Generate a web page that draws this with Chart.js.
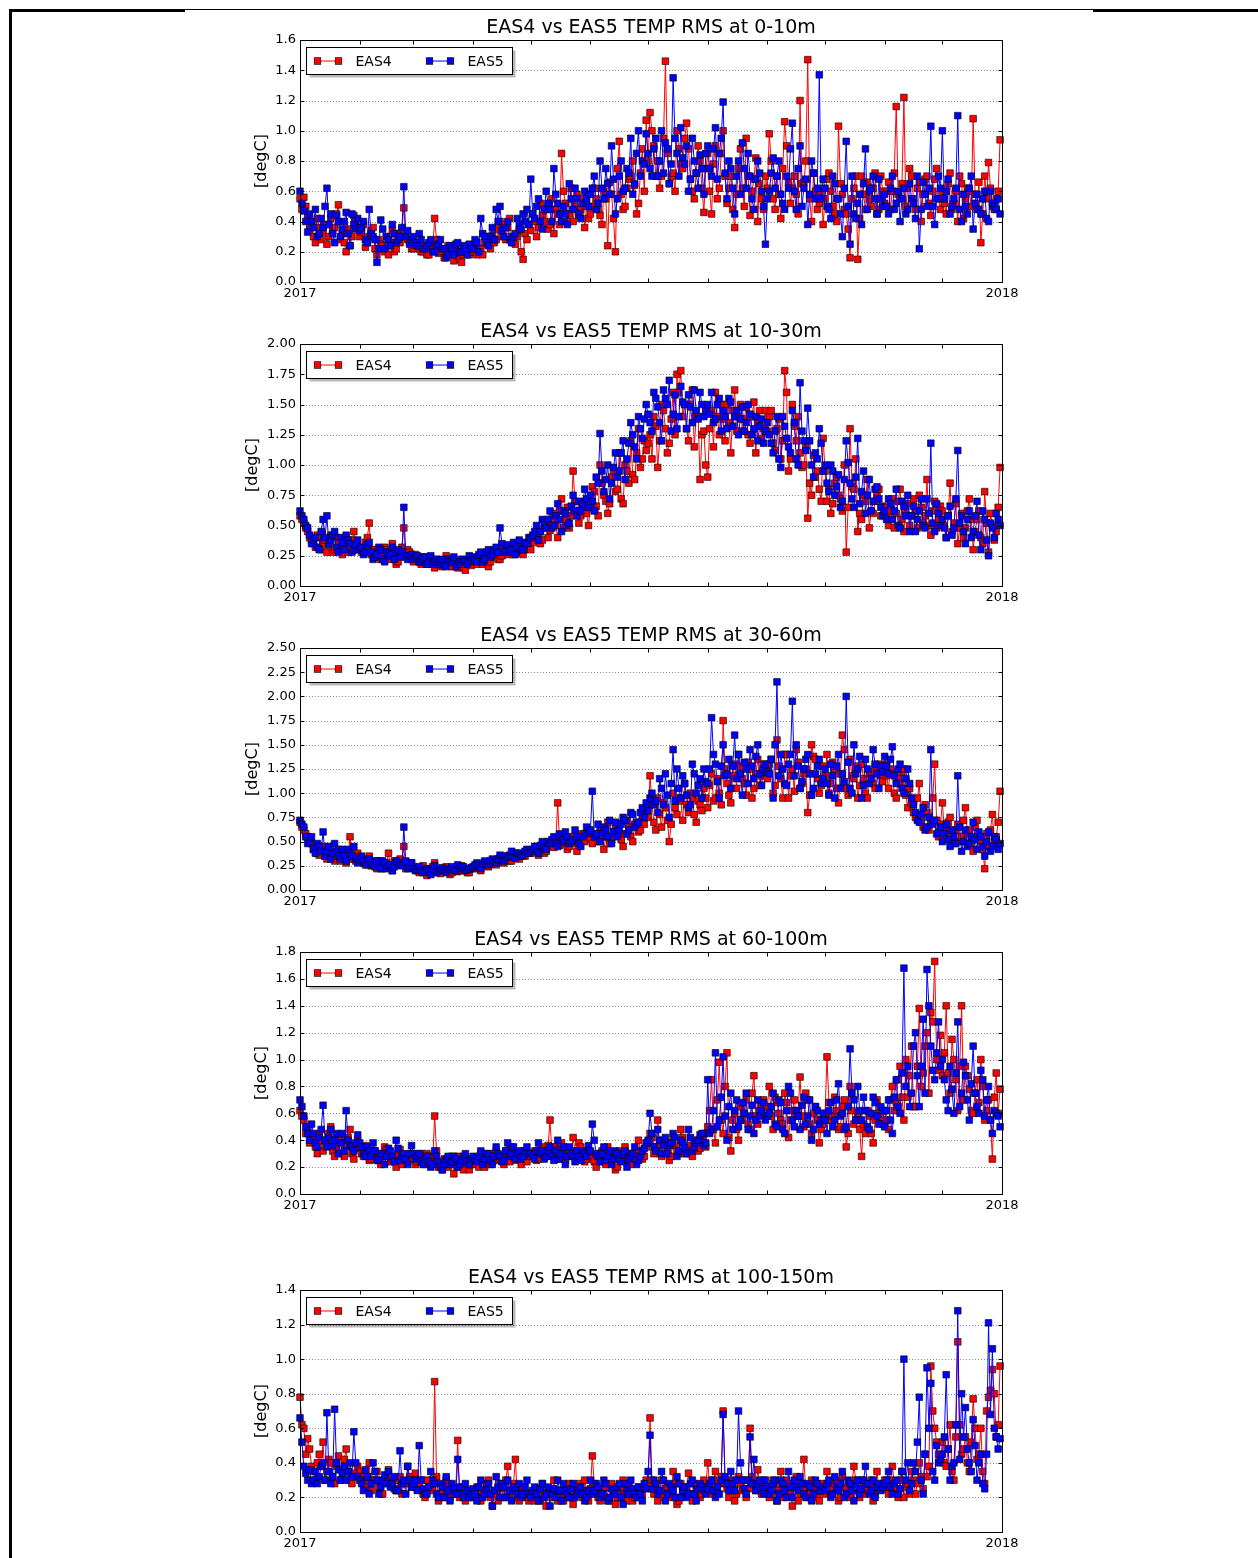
<!DOCTYPE html>
<html>
<head>
<meta charset="utf-8">
<title>EAS4 vs EAS5 TEMP RMS</title>
<script src="https://cdn.jsdelivr.net/npm/chart.js@4.4.0/dist/chart.umd.min.js"></script>
<style>
  body { margin: 0; background: #fff; width: 1258px; height: 1558px; position: relative; overflow: hidden; }
  .rule { position: absolute; background: #000; }
  canvas { position: absolute; }
</style>
</head>
<body>
<div class="rule" style="left:10px;top:9px;width:175px;height:3px"></div>
<div class="rule" style="left:185px;top:9px;width:908px;height:1px"></div>
<div class="rule" style="left:1093px;top:9px;width:165px;height:3px"></div>
<div class="rule" style="left:9px;top:9px;width:3px;height:1549px"></div>

<script>
const RED = "#ff0000";
const BLUE = "#0000ff";

// one value per day of 2017, as day-of-year offsets
const days = [];
for (let d = 0; d < 365; d++) days.push(d);

const monthStarts = [0, 31, 59, 90, 120, 151, 181, 212, 243, 273, 304, 334, 365];
const yearLabels = { 0: "2017", 365: "2018" };

const titles = [
  "EAS4 vs EAS5 TEMP RMS at 0-10m",
  "EAS4 vs EAS5 TEMP RMS at 10-30m",
  "EAS4 vs EAS5 TEMP RMS at 30-60m",
  "EAS4 vs EAS5 TEMP RMS at 60-100m",
  "EAS4 vs EAS5 TEMP RMS at 100-150m",
];
const yMax = [1.6, 2.0, 2.5, 1.8, 1.4];
const yStep = [0.2, 0.25, 0.25, 0.2, 0.2];
const yDecimals = [1, 2, 2, 1, 1];
const plotTops = [40, 344, 648, 952, 1290];

// daily RMS in hundredths of a degree, one row per month (Jan..Dec)
const eas4_0_10 = [
  55,48,56,50,44,35,40,30,26,42,36,28,33,38,25,30,42,34,36,45,51,28,32,26,20,35,24,30,44,40,36,
  30,33,38,23,26,30,34,36,22,18,28,25,24,20,30,18,26,34,20,22,32,26,35,49,30,28,26,22,
  22,24,26,22,20,20,24,18,18,24,22,42,28,19,20,22,16,18,24,20,19,14,22,17,15,13,18,20,22,18,20,
  20,24,18,20,22,18,26,30,25,22,31,26,28,35,40,30,38,28,36,42,30,26,25,30,34,20,15,32,28,38,
  34,45,40,30,36,52,44,40,48,35,38,55,32,48,45,38,85,60,52,40,45,62,40,50,58,44,48,55,36,50,42,
  45,50,62,55,48,44,38,60,55,24,66,58,42,20,75,93,58,48,50,62,68,70,80,64,45,52,72,88,60,107,
  80,112,100,90,70,80,62,70,95,146,85,65,70,72,60,100,88,78,75,95,105,88,68,60,55,72,90,80,62,46,75,
  85,60,45,78,90,55,62,85,100,70,52,62,70,48,36,58,75,88,62,50,95,70,44,60,68,82,40,65,55,48,70,
  62,98,80,55,48,70,58,42,75,106,90,66,52,62,70,58,45,120,65,66,80,147,55,40,72,60,48,52,60,38,
  55,68,72,60,50,45,40,103,65,58,48,45,35,16,55,62,70,15,42,70,58,48,66,55,50,62,72,45,48,70,60,
  52,60,66,48,60,72,116,58,55,65,122,50,62,75,70,55,48,62,66,40,58,68,70,52,44,60,68,75,55,48,
  60,52,45,65,72,48,52,60,40,70,65,42,55,62,60,50,108,58,48,66,26,45,70,55,79,62,50,48,55,60,94,
];
const eas5_0_10 = [
  60,52,47,40,33,45,40,36,48,30,32,42,36,50,62,38,45,32,26,44,40,30,35,40,46,32,24,45,38,35,42,
  34,36,40,28,26,48,32,30,28,13,22,41,35,22,30,28,24,38,32,26,28,30,36,63,30,34,25,28,
  30,26,24,32,28,22,22,24,26,28,20,20,24,25,28,22,22,16,18,24,22,18,25,26,20,20,24,22,18,25,22,
  22,28,26,20,42,32,30,26,24,30,36,28,48,40,50,34,30,36,40,28,26,30,32,42,38,35,45,40,48,38,
  68,45,42,50,55,40,35,48,60,52,48,40,75,58,52,45,40,50,45,38,65,55,48,62,55,45,42,52,60,55,50,
  58,62,70,48,52,80,62,55,75,65,58,90,68,45,55,70,80,60,62,75,72,95,58,65,85,100,70,80,78,98,
  85,75,70,88,95,70,80,100,72,92,88,65,78,135,95,85,70,102,82,78,90,60,68,95,80,72,62,84,75,58,85,
  90,75,70,88,102,68,85,95,119,72,55,80,75,62,45,70,80,58,92,75,62,85,70,55,48,68,80,72,60,50,25,
  55,60,72,82,62,70,80,58,52,48,70,62,88,105,60,48,75,90,50,62,68,38,58,80,72,55,62,137,55,68,
  62,50,48,42,70,65,55,55,45,30,62,93,50,25,70,45,42,52,58,38,65,88,48,60,62,70,55,45,68,55,50,
  58,50,45,62,70,48,52,60,40,55,62,45,48,65,55,52,42,70,22,48,66,58,50,62,103,50,38,55,70,62,
  100,55,60,68,45,50,55,62,110,48,40,58,50,45,62,70,35,52,58,48,45,55,60,42,40,60,52,50,48,55,45,
];

const eas4_10_30 = [
  58,55,52,48,45,40,38,35,32,42,40,30,36,38,28,34,42,28,30,40,35,30,26,35,38,28,32,38,45,35,30,
  32,28,28,36,40,52,26,30,30,25,28,22,24,32,30,28,22,35,28,18,20,25,32,48,25,30,28,22,
  20,26,24,20,18,24,22,18,20,22,18,15,22,20,17,16,20,25,22,18,16,22,20,15,18,20,15,13,20,18,17,
  22,20,18,24,20,18,25,22,16,20,24,26,28,22,22,25,30,28,26,30,32,26,28,32,35,28,26,30,34,36,
  30,38,36,42,44,35,38,48,52,40,46,55,60,50,40,62,72,48,55,65,48,58,95,70,62,52,58,65,70,60,50,
  65,82,78,66,58,100,85,75,70,60,68,90,95,78,80,110,72,68,100,95,85,120,92,88,110,130,98,105,120,112,
  118,125,105,140,132,98,120,150,145,130,110,118,138,160,125,175,160,178,140,150,130,120,150,162,115,140,140,88,125,128,100,
  90,130,145,115,160,140,125,150,138,120,150,135,110,145,162,128,140,150,128,138,148,125,118,140,152,110,135,145,122,130,145,
  128,140,145,118,112,130,138,105,120,178,160,95,105,150,132,120,140,110,98,100,115,56,85,75,108,90,95,80,70,122,
  95,70,80,60,68,85,90,75,72,62,100,28,65,130,82,80,105,45,60,55,75,70,88,48,62,60,70,75,80,58,66,
  65,58,50,62,72,48,60,70,80,55,45,62,68,50,58,72,62,48,75,65,52,58,88,50,42,62,70,48,55,66,
  62,50,40,58,85,45,52,68,35,48,60,40,48,62,72,55,30,45,55,62,40,35,78,52,28,60,50,38,45,65,98,
];
const eas5_10_30 = [
  62,58,55,50,48,42,35,38,40,32,30,45,55,40,58,35,38,42,45,32,28,40,36,30,42,38,35,28,30,34,38,
  30,32,26,28,34,36,28,22,24,26,32,30,22,20,28,25,26,32,22,28,30,24,28,65,24,22,25,26,
  22,24,25,20,20,22,24,18,20,25,18,20,22,18,20,22,17,16,22,20,20,24,16,18,20,22,22,20,18,25,21,
  24,22,20,26,28,20,22,28,30,24,26,30,32,28,48,35,28,30,34,28,30,36,26,32,38,30,30,36,35,40,
  40,42,45,50,38,45,55,52,48,55,62,48,50,58,68,55,45,62,60,50,52,66,75,62,58,70,62,68,80,72,65,
  75,70,62,90,85,126,95,78,88,100,72,85,98,110,90,95,110,120,88,105,118,135,125,115,105,140,130,122,138,150,
  142,135,128,160,155,148,135,120,162,155,150,170,128,142,158,130,140,165,152,150,130,158,148,135,162,145,138,160,150,140,145,
  150,142,160,135,138,150,155,128,145,140,130,155,152,132,140,145,125,138,148,128,135,150,142,125,130,140,120,132,138,118,128,
  135,125,118,110,128,140,105,98,140,132,122,115,110,145,135,105,100,168,128,120,112,147,120,100,90,110,105,130,118,95,
  100,85,78,100,95,75,82,92,65,70,88,120,102,85,72,65,90,122,68,78,95,60,75,88,62,70,80,82,72,65,58,
  62,55,72,68,55,62,80,50,48,70,66,58,75,45,58,66,45,55,62,72,50,48,72,60,118,52,45,68,60,50,
  55,48,40,58,66,42,48,72,112,52,58,45,35,55,62,40,45,58,70,42,30,62,55,38,25,52,48,40,60,55,50,
];

const eas4_30_60 = [
  70,65,62,58,55,50,48,42,40,38,36,40,45,35,32,42,38,33,30,36,42,30,35,38,28,32,55,35,32,30,38,
  34,30,28,26,32,35,25,28,30,22,26,30,22,25,28,38,24,20,30,28,26,32,28,45,22,24,25,28,
  24,22,20,18,22,25,18,15,20,22,24,28,20,18,17,20,22,24,20,16,18,22,22,19,20,25,22,20,18,18,22,
  22,24,25,22,20,26,28,25,24,28,30,27,26,30,33,29,28,32,35,30,30,34,38,33,32,36,36,35,40,38,
  38,40,42,45,36,42,46,38,40,48,50,45,44,52,90,46,48,50,52,42,45,50,55,48,40,55,58,52,50,56,62,
  52,48,58,55,50,60,62,42,55,70,48,52,60,65,68,58,52,45,58,72,65,55,50,68,70,60,62,75,68,82,
  75,118,88,70,62,95,78,65,90,85,72,50,68,100,85,78,95,92,72,110,88,80,100,95,78,70,92,88,82,105,95,
  85,108,120,92,95,115,100,88,175,125,110,98,90,118,130,105,140,128,115,110,98,132,125,95,105,120,135,108,118,130,122,
  115,130,135,100,108,155,128,115,95,140,140,95,118,125,102,145,132,105,110,120,125,80,98,150,138,135,115,100,108,128,
  118,140,100,110,132,125,105,90,120,160,145,105,98,135,118,115,128,95,108,130,115,100,95,120,122,110,105,125,130,118,112,
  130,118,105,125,120,100,95,115,110,122,125,98,85,105,90,80,75,95,110,70,65,88,80,62,70,95,130,72,55,68,
  90,62,60,70,75,55,48,62,68,50,55,72,85,58,62,48,40,65,72,55,50,42,22,58,45,62,78,48,55,70,102,
];
const eas5_30_60 = [
  72,68,65,55,48,50,55,42,38,48,45,40,60,35,40,45,32,38,48,40,35,32,42,36,30,42,38,35,45,32,28,
  32,35,30,28,26,32,28,26,24,30,26,22,30,28,22,25,26,20,24,30,28,26,25,65,30,22,24,28,
  22,20,21,24,20,18,19,22,20,16,22,25,18,20,22,23,20,18,21,22,24,20,20,26,22,24,24,20,21,22,23,
  24,26,28,25,22,27,30,28,26,30,32,29,28,32,36,31,30,35,34,36,40,34,33,38,38,35,36,40,42,38,
  40,42,45,40,38,46,50,44,42,50,48,52,55,48,45,58,50,52,60,55,48,50,52,62,55,48,45,55,58,65,60,
  62,102,55,58,68,50,58,65,62,55,72,48,60,70,55,62,68,75,72,58,62,80,78,65,68,70,80,85,75,90,
  82,95,100,88,92,80,115,105,88,120,98,75,110,145,92,125,105,95,118,110,98,85,88,130,120,100,108,115,95,125,112,
  110,125,178,140,130,112,95,128,150,118,120,135,105,128,160,115,140,120,98,132,125,110,145,128,115,138,150,120,108,125,130,
  122,120,135,95,150,215,118,140,125,110,108,130,140,195,118,150,128,105,112,125,135,140,120,98,105,120,128,135,110,115,
  125,110,98,130,118,95,128,140,105,120,112,200,132,105,100,150,120,125,138,95,108,135,125,110,115,145,130,120,105,128,122,
  138,128,120,135,148,118,110,125,130,105,100,115,125,110,95,88,80,72,70,78,85,62,65,75,145,68,72,58,60,65,
  50,58,68,52,45,62,55,48,118,65,40,50,62,45,48,55,70,52,42,60,55,45,35,50,60,40,45,55,52,42,48,
];

const eas4_60_100 = [
  62,58,55,45,48,38,40,42,35,30,45,40,32,36,38,45,50,32,28,35,42,40,30,28,36,42,48,30,26,35,40,
  34,30,28,36,30,25,26,32,32,28,25,22,28,35,33,30,24,26,28,20,30,33,22,28,26,24,28,30,
  26,22,24,28,30,24,22,30,28,26,25,58,32,20,22,18,26,25,20,22,28,15,24,28,22,20,18,24,26,18,22,
  22,25,26,20,30,28,20,24,28,22,24,30,32,25,26,28,22,32,30,24,35,28,25,30,28,22,32,26,24,30,
  28,30,32,25,26,32,35,28,30,36,55,30,28,35,33,26,38,30,25,34,30,28,42,32,28,38,35,30,24,26,32,
  30,26,24,20,28,30,32,24,22,35,30,28,26,18,20,32,28,25,35,30,24,22,30,28,26,40,32,26,28,35,
  38,45,42,30,35,55,30,28,40,38,32,25,28,42,36,32,30,48,42,30,35,36,30,28,38,40,32,34,40,45,35,
  50,62,85,48,38,70,98,55,45,80,105,42,32,55,60,48,40,65,55,60,70,52,48,75,88,58,52,62,65,70,58,
  65,80,58,48,72,68,60,55,52,75,68,42,55,62,70,58,62,87,58,50,75,70,52,45,60,65,55,38,48,52,
  60,102,68,55,58,72,62,48,50,65,70,35,45,80,62,52,55,60,48,28,52,45,62,58,45,38,55,70,60,55,52,
  62,55,48,70,80,62,68,85,95,72,55,100,72,88,110,65,65,95,138,80,90,110,120,75,135,128,173,100,92,118,
  88,105,140,90,75,115,100,85,62,95,140,70,95,88,78,62,60,75,85,68,100,80,55,62,70,55,26,72,90,60,78,
];
const eas5_60_100 = [
  70,65,58,50,45,40,52,45,38,35,42,48,66,40,35,42,48,36,40,45,30,38,45,32,62,40,36,35,32,38,44,
  38,35,30,28,35,32,28,38,32,25,26,30,30,22,28,34,32,28,24,40,34,25,28,30,26,22,30,36,
  30,26,28,30,24,22,26,28,24,20,22,32,28,24,20,18,22,26,28,22,24,28,26,20,22,25,28,30,24,22,26,
  28,26,24,28,32,22,26,30,30,25,22,28,35,30,28,24,25,32,38,28,30,35,26,30,32,26,28,32,35,30,
  30,28,26,32,38,30,32,26,28,32,35,28,25,32,40,26,30,35,22,28,35,30,28,24,32,28,25,32,30,28,36,
  32,52,40,30,28,24,30,35,25,28,32,22,26,32,30,26,24,30,32,20,26,28,30,35,22,25,28,32,34,38,
  40,60,45,35,32,48,40,30,36,42,30,36,38,45,42,28,32,40,38,34,30,48,42,32,35,38,40,44,45,36,38,
  85,45,48,62,105,50,55,72,102,58,40,65,75,48,62,70,50,55,68,60,75,48,58,66,45,55,70,58,62,68,55,
  58,60,65,75,52,50,70,68,48,45,62,80,75,55,50,62,58,48,66,72,52,58,70,40,48,65,62,52,55,60,
  55,45,62,68,50,55,70,82,58,60,48,50,65,108,75,70,55,80,62,55,72,62,50,48,60,72,68,58,52,65,62,
  50,62,70,55,45,72,85,65,60,90,168,80,95,65,75,110,120,88,65,95,130,75,167,140,110,92,85,105,128,95,
  100,85,70,62,95,78,60,90,128,65,75,98,88,70,55,82,110,75,65,60,92,85,58,70,80,55,45,62,60,58,50,
];

const eas4_100_150 = [
  78,62,60,45,54,48,38,35,30,40,45,38,52,30,35,42,40,32,28,38,44,30,36,42,48,35,30,28,34,32,38,
  35,32,28,26,32,40,24,30,30,35,26,22,22,28,32,36,28,30,25,24,30,32,22,28,28,38,32,26,
  28,34,25,28,30,22,20,30,26,25,24,87,32,18,22,24,20,30,28,20,22,22,25,53,20,26,24,18,22,24,20,
  20,24,26,20,18,22,24,28,30,20,15,24,22,18,28,25,20,30,38,22,24,28,42,20,18,24,25,22,20,18,
  22,20,18,24,25,18,28,22,15,25,22,20,30,24,18,22,24,18,20,26,28,20,16,22,25,28,22,20,30,24,18,
  25,44,28,22,20,18,22,25,26,20,18,28,24,16,20,22,26,30,22,18,28,24,18,20,24,26,20,22,26,30,
  28,66,30,22,25,18,22,30,20,25,26,20,22,35,28,16,18,28,24,22,26,34,22,18,28,25,24,20,22,30,26,
  40,28,22,30,35,22,28,32,70,28,25,20,30,26,18,22,32,28,24,30,20,25,60,32,28,24,36,28,22,30,26,
  25,20,22,30,28,18,24,35,20,24,30,28,22,15,26,32,18,22,28,42,24,20,22,30,28,25,20,18,24,28,
  22,35,28,22,25,28,30,18,20,32,26,25,22,20,28,38,30,24,20,30,26,22,24,28,30,18,22,35,25,25,28,
  30,25,22,30,38,28,25,20,30,35,20,26,28,22,35,30,22,28,40,32,25,45,32,38,96,70,60,52,45,42,
  52,40,38,48,62,35,30,55,110,62,45,48,55,40,35,52,77,60,42,45,60,35,28,70,78,82,94,80,55,62,96,
];
const eas5_100_150 = [
  66,52,38,34,30,36,28,30,35,28,32,38,40,30,69,35,28,32,71,40,36,30,34,38,30,35,40,32,58,40,32,
  30,28,24,36,32,22,28,40,35,30,22,26,30,33,28,35,26,28,32,24,24,47,28,30,22,38,30,26,
  28,30,24,50,30,25,22,22,26,35,30,28,22,20,28,26,20,32,24,18,28,25,22,42,26,22,20,28,24,20,22,
  25,22,18,26,30,20,22,25,28,22,15,24,32,26,20,28,26,20,30,24,18,26,24,22,28,20,22,26,30,22,
  20,24,26,22,18,25,28,20,22,26,15,22,25,20,30,24,18,28,24,22,20,25,28,20,22,24,26,22,18,20,24,
  30,22,24,28,26,20,22,30,28,18,20,25,24,22,26,28,20,16,28,24,22,30,25,22,20,26,22,18,28,25,
  35,56,25,30,28,22,24,35,30,18,22,28,26,24,20,32,28,20,24,26,20,22,28,30,22,18,25,28,26,24,22,
  25,28,30,24,20,26,22,30,68,32,28,24,35,28,24,30,70,40,30,25,22,30,55,28,42,24,28,30,25,22,30,
  26,22,24,28,30,18,22,30,28,24,20,35,26,20,30,26,24,32,28,22,20,28,26,18,22,30,28,24,24,26,
  24,28,30,20,22,32,26,24,28,35,20,22,30,28,24,18,26,30,22,25,30,38,28,22,24,30,20,26,28,24,26,
  28,30,35,26,22,28,30,22,25,35,100,30,40,24,28,40,35,52,78,30,22,45,95,60,86,35,30,50,40,42,
  45,55,91,48,30,38,40,62,128,42,80,55,72,48,40,35,65,50,30,40,45,28,25,45,121,68,106,60,55,48,54,
];

const eas4Series = [eas4_0_10, eas4_10_30, eas4_30_60, eas4_60_100, eas4_100_150];
const eas5Series = [eas5_0_10, eas5_10_30, eas5_30_60, eas5_60_100, eas5_100_150];

eas4Series.concat(eas5Series).forEach((s, i) => {
  if (s.length !== days.length) throw new Error("series " + i + " has " + s.length + " values");
});

const FONT = '"DejaVu Sans", sans-serif';
const PLOT_H = 242;
const PAD_TOP = 40;
const AXIS_W = 70;
const AXIS_H = 30;
const CANVAS_LEFT = 230;
const CANVAS_W = 800;

function drawMarker(ctx, x, y, color) {
  ctx.fillStyle = color;
  ctx.fillRect(x - 3.3, y - 3.3, 6.6, 6.6);
  ctx.strokeRect(x - 3.3, y - 3.3, 6.6, 6.6);
}

// matplotlib-ish decorations: dotted grid, frame, inward ticks, title, legend
const panelDecor = {
  id: "panelDecor",
  beforeDatasetsDraw(chart) {
    const { ctx, chartArea: a, scales: { y } } = chart;
    ctx.save();
    ctx.strokeStyle = "#8a8a8a";
    ctx.lineWidth = 1;
    ctx.setLineDash([1, 2]);
    ctx.beginPath();
    y.ticks.forEach((t) => {
      const py = Math.round(y.getPixelForValue(t.value)) + 0.5;
      if (py <= a.top + 1 || py >= a.bottom - 1) return;
      ctx.moveTo(a.left, py);
      ctx.lineTo(a.right, py);
    });
    ctx.stroke();
    ctx.restore();
  },
  afterDraw(chart, args, opts) {
    const { ctx, chartArea: a, scales: { x, y } } = chart;
    ctx.save();
    ctx.strokeStyle = "#000";
    ctx.lineWidth = 1;
    ctx.setLineDash([]);
    const L = Math.round(a.left) + 0.5, R = Math.round(a.right) + 0.5;
    const T = Math.round(a.top) + 0.5, B = Math.round(a.bottom) + 0.5;
    ctx.strokeRect(L, T, R - L, B - T);

    ctx.beginPath();
    y.ticks.forEach((t) => {
      const py = Math.round(y.getPixelForValue(t.value)) + 0.5;
      ctx.moveTo(L, py); ctx.lineTo(L + 4, py);
      ctx.moveTo(R, py); ctx.lineTo(R - 4, py);
    });
    monthStarts.forEach((d) => {
      const px = Math.round(x.getPixelForValue(d)) + 0.5;
      ctx.moveTo(px, T); ctx.lineTo(px, T + 4);
      ctx.moveTo(px, B); ctx.lineTo(px, B - 4);
    });
    ctx.stroke();

    // title
    ctx.fillStyle = "#000";
    ctx.font = "19px " + FONT;
    ctx.textAlign = "center";
    ctx.textBaseline = "middle";
    ctx.fillText(opts.title, (a.left + a.right) / 2, a.top - 12);

    // y axis label
    ctx.save();
    ctx.translate(a.left - opts.labelOffset, (a.top + a.bottom) / 2);
    ctx.rotate(-Math.PI / 2);
    ctx.font = "16px " + FONT;
    ctx.fillText("[degC]", 0, 0);
    ctx.restore();

    // legend
    const lx = L + 6, ly = T + 7, lw = 206, lh = 27;
    ctx.fillStyle = "rgba(0,0,0,0.28)";
    ctx.fillRect(lx + 3, ly + 3, lw, lh);
    ctx.fillStyle = "#fff";
    ctx.fillRect(lx, ly, lw, lh);
    ctx.strokeRect(lx, ly, lw, lh);
    const cy = ly + 13.5;
    const entries = [
      { name: "EAS4", color: RED, x0: lx + 11, text: lx + 49 },
      { name: "EAS5", color: BLUE, x0: lx + 123, text: lx + 161 },
    ];
    ctx.font = "14px " + FONT;
    ctx.textAlign = "left";
    entries.forEach((e) => {
      ctx.strokeStyle = e.color;
      ctx.beginPath();
      ctx.moveTo(e.x0, cy); ctx.lineTo(e.x0 + 21, cy);
      ctx.stroke();
      ctx.strokeStyle = "#000";
      ctx.lineWidth = 0.6;
      drawMarker(ctx, e.x0, cy, e.color);
      drawMarker(ctx, e.x0 + 21, cy, e.color);
      ctx.lineWidth = 1;
      ctx.fillStyle = "#000";
      ctx.fillText(e.name, e.text, cy + 1);
    });
    ctx.restore();
  },
};

function series(label, values, color, order) {
  return {
    label,
    data: days.map((d, i) => ({ x: d, y: values[i] / 100 })),
    borderColor: color,
    backgroundColor: color,
    borderWidth: 1,
    pointStyle: "rect",
    pointRadius: 4.7,
    pointBorderWidth: 0.6,
    pointBorderColor: "#000",
    pointBackgroundColor: color,
    tension: 0,
    clip: 6,
    order,
  };
}

titles.forEach((title, p) => {
  const canvas = document.createElement("canvas");
  canvas.width = CANVAS_W;
  canvas.height = PLOT_H + PAD_TOP + AXIS_H;
  canvas.style.left = CANVAS_LEFT + "px";
  canvas.style.top = (plotTops[p] - PAD_TOP) + "px";
  document.body.appendChild(canvas);

  new Chart(canvas, {
    type: "line",
    data: {
      datasets: [
        series("EAS4", eas4Series[p], RED, 1),
        series("EAS5", eas5Series[p], BLUE, 0),
      ],
    },
    options: {
      responsive: false,
      animation: false,
      devicePixelRatio: 1,
      layout: { padding: { top: PAD_TOP, right: 28, left: 0, bottom: 0 } },
      plugins: {
        legend: { display: false },
        tooltip: { enabled: false },
        panelDecor: { title, labelOffset: yDecimals[p] === 2 ? 47 : 38 },
      },
      scales: {
        x: {
          type: "linear",
          min: 0,
          max: 365,
          afterBuildTicks: (scale) => {
            scale.ticks = monthStarts.map((v) => ({ value: v }));
          },
          afterFit: (scale) => { scale.height = AXIS_H; },
          grid: { display: false, drawTicks: false },
          border: { display: false },
          ticks: {
            autoSkip: false,
            maxRotation: 0,
            padding: 4,
            color: "#000",
            font: { family: FONT, size: 13 },
            callback: (v) => yearLabels[v] || "",
          },
        },
        y: {
          min: 0,
          max: yMax[p],
          afterFit: (scale) => { scale.width = AXIS_W; },
          grid: { display: false, drawTicks: false },
          border: { display: false },
          ticks: {
            stepSize: yStep[p],
            padding: 4,
            color: "#000",
            font: { family: FONT, size: 13 },
            callback: (v) => Number(v).toFixed(yDecimals[p]),
          },
        },
      },
    },
    plugins: [panelDecor],
  });
});
</script>
</body>
</html>
